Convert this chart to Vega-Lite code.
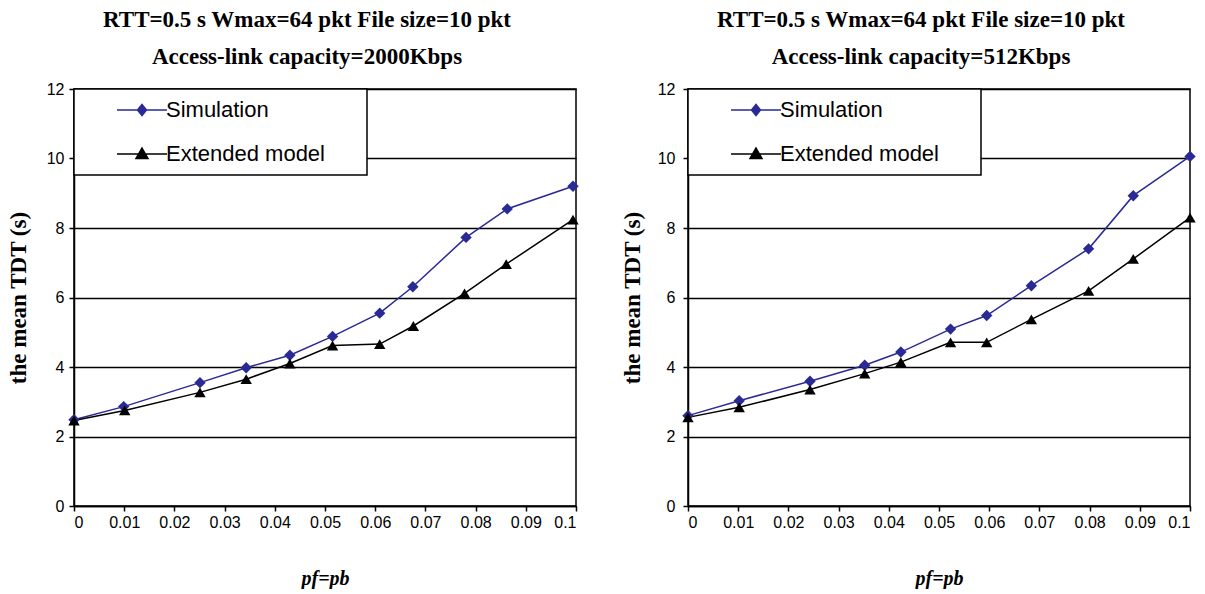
{
  "$schema": "https://vega.github.io/schema/vega-lite/v6.json",
  "padding": {"left": 6, "top": 8, "right": 15, "bottom": 0},
  "background": "white",
  "datasets": {
    "left": [
      {"p": 0, "tdt": 2.48, "series": "Simulation"},
      {"p": 0.0099, "tdt": 2.86, "series": "Simulation"},
      {"p": 0.0251, "tdt": 3.55, "series": "Simulation"},
      {"p": 0.0343, "tdt": 3.98, "series": "Simulation"},
      {"p": 0.043, "tdt": 4.34, "series": "Simulation"},
      {"p": 0.0515, "tdt": 4.88, "series": "Simulation"},
      {"p": 0.0609, "tdt": 5.55, "series": "Simulation"},
      {"p": 0.0675, "tdt": 6.31, "series": "Simulation"},
      {"p": 0.0781, "tdt": 7.73, "series": "Simulation"},
      {"p": 0.0863, "tdt": 8.55, "series": "Simulation"},
      {"p": 0.0994, "tdt": 9.2, "series": "Simulation"},
      {"p": 0, "tdt": 2.46, "series": "Extended model"},
      {"p": 0.0101, "tdt": 2.75, "series": "Extended model"},
      {"p": 0.0251, "tdt": 3.27, "series": "Extended model"},
      {"p": 0.0343, "tdt": 3.65, "series": "Extended model"},
      {"p": 0.043, "tdt": 4.1, "series": "Extended model"},
      {"p": 0.0515, "tdt": 4.62, "series": "Extended model"},
      {"p": 0.0609, "tdt": 4.66, "series": "Extended model"},
      {"p": 0.0676, "tdt": 5.18, "series": "Extended model"},
      {"p": 0.0778, "tdt": 6.12, "series": "Extended model"},
      {"p": 0.0861, "tdt": 6.96, "series": "Extended model"},
      {"p": 0.0994, "tdt": 8.24, "series": "Extended model"}
    ],
    "right": [
      {"p": 0, "tdt": 2.6, "series": "Simulation"},
      {"p": 0.0102, "tdt": 3.03, "series": "Simulation"},
      {"p": 0.0243, "tdt": 3.59, "series": "Simulation"},
      {"p": 0.0352, "tdt": 4.05, "series": "Simulation"},
      {"p": 0.0424, "tdt": 4.43, "series": "Simulation"},
      {"p": 0.0523, "tdt": 5.09, "series": "Simulation"},
      {"p": 0.0595, "tdt": 5.48, "series": "Simulation"},
      {"p": 0.0684, "tdt": 6.34, "series": "Simulation"},
      {"p": 0.0798, "tdt": 7.4, "series": "Simulation"},
      {"p": 0.0887, "tdt": 8.93, "series": "Simulation"},
      {"p": 0.1, "tdt": 10.06, "series": "Simulation"},
      {"p": 0, "tdt": 2.55, "series": "Extended model"},
      {"p": 0.0102, "tdt": 2.84, "series": "Extended model"},
      {"p": 0.0243, "tdt": 3.35, "series": "Extended model"},
      {"p": 0.0352, "tdt": 3.81, "series": "Extended model"},
      {"p": 0.0424, "tdt": 4.14, "series": "Extended model"},
      {"p": 0.0523, "tdt": 4.71, "series": "Extended model"},
      {"p": 0.0595, "tdt": 4.71, "series": "Extended model"},
      {"p": 0.0684, "tdt": 5.37, "series": "Extended model"},
      {"p": 0.0798, "tdt": 6.19, "series": "Extended model"},
      {"p": 0.0887, "tdt": 7.11, "series": "Extended model"},
      {"p": 0.1, "tdt": 8.3, "series": "Extended model"}
    ]
  },
  "config": {
    "view": {"stroke": "black", "strokeWidth": 1.5},
    "title": {"font": "Liberation Serif", "fontWeight": "bold", "fontSize": 23, "color": "black", "lineHeight": 37, "offset": 12, "anchor": "middle", "frame": "group", "dx": -18},
    "axis": {
      "labelFont": "Liberation Sans", "labelFontSize": 16, "labelColor": "black",
      "domainColor": "black", "tickColor": "black", "tickSize": 5, "domainWidth": 1.5, "tickWidth": 1.5,
      "titleFont": "Liberation Serif", "titleFontWeight": "bold", "titleColor": "black"
    },
    "legend": {
      "padding": 10, "strokeColor": "black", "fillColor": "white",
      "strokeWidth": 1.5, "labelFont": "Liberation Sans", "labelFontSize": 22, "labelColor": "black",
      "symbolOffset": 47, "labelOffset": 13, "rowPadding": 22, "labelLimit": 300
    }
  },
  "resolve": {"scale": {"color": "independent"}, "legend": {"color": "independent"}},
  "spacing": 40,
  "hconcat": [
    {
      "width": 502, "height": 417,
      "title": {"text": ["RTT=0.5 s Wmax=64 pkt File size=10 pkt", "Access-link capacity=2000Kbps"]},
      "data": {"name": "left"},
      "encoding": {
        "x": {"field": "p", "type": "quantitative", "title": "pf=pb",
          "scale": {"domain": [0, 0.1], "nice": false},
          "axis": {"values": [0, 0.01, 0.02, 0.03, 0.04, 0.05, 0.06, 0.07, 0.08, 0.09, 0.1], "format": ".2~f", "grid": false, "labelPadding": 3, "titleFontStyle": "italic", "titleFontSize": 20, "titlePadding": 38}},
        "y": {"field": "tdt", "type": "quantitative", "title": "the mean TDT (s)",
          "scale": {"domain": [0, 12], "nice": false},
          "axis": {"values": [0, 2, 4, 6, 8, 10, 12], "grid": true, "gridColor": "black", "gridWidth": 1.5, "gridOpacity": 1, "labelPadding": 5, "titleFontSize": 23, "minExtent": 30, "maxExtent": 30, "titlePadding": 14}},
        "color": {"field": "series", "type": "nominal", "scale": {"domain": ["Simulation", "Extended model"], "range": ["#2a2a96", "#000000"]},
          "legend": {"title": null, "orient": "top-left", "offset": 0, "symbolSize": 400,
            "labelExpr": "datum.label + '\u2800\u2800'",
            "encode": {"symbols": {"update": {
              "shape": {"signal": "datum.value === 'Simulation' ? 'M-2.5,0H2.5M0,-0.55L0.45,0L0,0.55L-0.45,0Z' : 'M-2.5,0H2.5M0,-0.6L0.6,0.45L-0.6,0.45Z'"},
              "stroke": {"signal": "datum.value === 'Simulation' ? '#4444b0' : '#000000'"},
              "fill": {"signal": "datum.value === 'Simulation' ? '#16167a' : '#000000'"},
              "strokeWidth": {"value": 1.5},
              "opacity": {"value": 1}}}}}}
      },
      "layer": [
        {"mark": {"type": "line", "strokeWidth": 1.5}},
        {"transform": [{"filter": "datum.series === 'Simulation'"}],
          "mark": {"type": "point", "shape": "diamond", "filled": true, "opacity": 1, "size": 130}},
        {"transform": [{"filter": "datum.series === 'Extended model'"}],
          "mark": {"type": "point", "shape": "triangle-up", "filled": true, "opacity": 1, "size": 130}}
      ]
    },
    {
      "width": 502, "height": 417,
      "title": {"text": ["RTT=0.5 s Wmax=64 pkt File size=10 pkt", "Access-link capacity=512Kbps"]},
      "data": {"name": "right"},
      "encoding": {
        "x": {"field": "p", "type": "quantitative", "title": "pf=pb",
          "scale": {"domain": [0, 0.1], "nice": false},
          "axis": {"values": [0, 0.01, 0.02, 0.03, 0.04, 0.05, 0.06, 0.07, 0.08, 0.09, 0.1], "format": ".2~f", "grid": false, "labelPadding": 3, "titleFontStyle": "italic", "titleFontSize": 20, "titlePadding": 38}},
        "y": {"field": "tdt", "type": "quantitative", "title": "the mean TDT (s)",
          "scale": {"domain": [0, 12], "nice": false},
          "axis": {"values": [0, 2, 4, 6, 8, 10, 12], "grid": true, "gridColor": "black", "gridWidth": 1.5, "gridOpacity": 1, "labelPadding": 8, "titleFontSize": 23, "minExtent": 33, "maxExtent": 33, "titlePadding": 11}},
        "color": {"field": "series", "type": "nominal", "scale": {"domain": ["Simulation", "Extended model"], "range": ["#2a2a96", "#000000"]},
          "legend": {"title": null, "orient": "top-left", "offset": 0, "symbolSize": 400,
            "labelExpr": "datum.label + '\u2800\u2800'",
            "encode": {"symbols": {"update": {
              "shape": {"signal": "datum.value === 'Simulation' ? 'M-2.5,0H2.5M0,-0.55L0.45,0L0,0.55L-0.45,0Z' : 'M-2.5,0H2.5M0,-0.6L0.6,0.45L-0.6,0.45Z'"},
              "stroke": {"signal": "datum.value === 'Simulation' ? '#4444b0' : '#000000'"},
              "fill": {"signal": "datum.value === 'Simulation' ? '#16167a' : '#000000'"},
              "strokeWidth": {"value": 1.5},
              "opacity": {"value": 1}}}}}}
      },
      "layer": [
        {"mark": {"type": "line", "strokeWidth": 1.5}},
        {"transform": [{"filter": "datum.series === 'Simulation'"}],
          "mark": {"type": "point", "shape": "diamond", "filled": true, "opacity": 1, "size": 130}},
        {"transform": [{"filter": "datum.series === 'Extended model'"}],
          "mark": {"type": "point", "shape": "triangle-up", "filled": true, "opacity": 1, "size": 130}}
      ]
    }
  ]
}
